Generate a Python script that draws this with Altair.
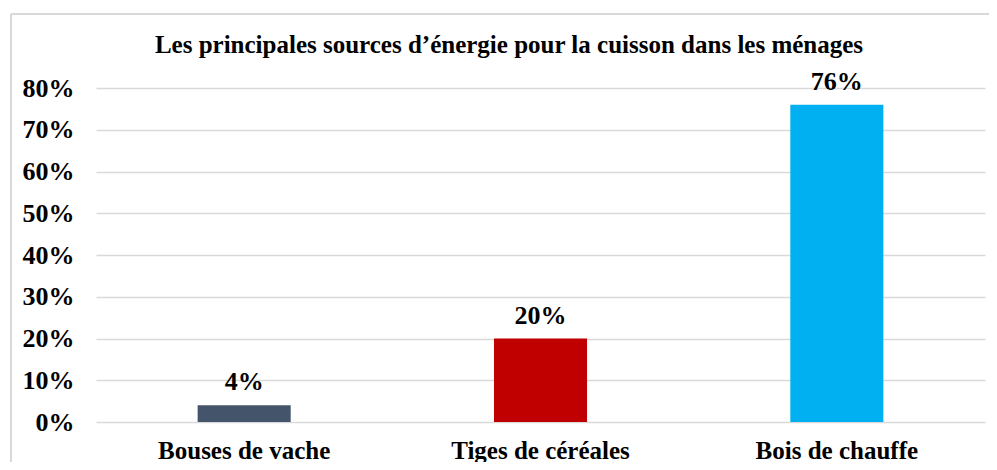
import altair as alt
import pandas as pd

categories = ["Bouses de vache", "Tiges de céréales", "Bois de chauffe"]
values = [0.04, 0.20, 0.76]
colors = ["#44546A", "#C00000", "#00B0F0"]
title_text = "Les principales sources d’énergie pour la cuisson dans les ménages"

df = pd.DataFrame({"cat": categories, "val": values, "label": [f"{round(v*100)}%" for v in values]})
tdf = pd.DataFrame({"t": [title_text]})

FONT = "Liberation Serif"
W, H = 889, 334

x = alt.X("cat:N", sort=categories, title=None,
          scale=alt.Scale(paddingInner=0.686, paddingOuter=0.343),
          axis=alt.Axis(labelAngle=0, labelFont=FONT, labelFontSize=25, labelFontWeight="bold",
                        labelColor="black", labelPadding=16, ticks=False, domain=False))
y = alt.Y("val:Q", title=None,
          scale=alt.Scale(domain=[0, 0.8], nice=False),
          axis=alt.Axis(format=".0%", values=[0, .1, .2, .3, .4, .5, .6, .7, .8],
                        labelFont=FONT, labelFontSize=26, labelFontWeight="bold",
                        labelColor="black", labelPadding=22, ticks=False, domain=False,
                        grid=True, gridColor="#d9d9d9", gridWidth=1.5))

bars = alt.Chart(df).mark_bar().encode(
    x=x, y=y,
    color=alt.Color("cat:N", scale=alt.Scale(domain=categories, range=colors), legend=None),
)
labels = alt.Chart(df).mark_text(font=FONT, fontSize=26, fontWeight="bold", color="black",
                                 baseline="alphabetic", dy=-15).encode(
    x=alt.X("cat:N", sort=categories), y="val:Q", text="label:N")

title = alt.Chart(tdf).mark_text(font=FONT, fontSize=25, fontWeight="bold", color="black",
                                 baseline="middle", align="center", clip=False).encode(
    x=alt.value(413), y=alt.value(-43), text="t:N")

border_top = alt.Chart(df).mark_rule(color="#d9d9d9", strokeWidth=2, clip=False).encode(
    x=alt.value(-85), x2=alt.value(1000), y=alt.value(-74))
border_left = alt.Chart(df).mark_rule(color="#d9d9d9", strokeWidth=2, clip=False).encode(
    x=alt.value(-85), y=alt.value(-74), y2=alt.value(400))

chart = alt.layer(border_top, border_left, bars, labels, title).properties(
    width=W, height=H,
    autosize=alt.AutoSizeParams(type="none"),
    padding={"left": 88, "top": 80, "right": 4, "bottom": 40},
    background="white",
).configure_view(stroke=None)

chart.save("out.html", embed_options={"renderer": "svg", "actions": False})
